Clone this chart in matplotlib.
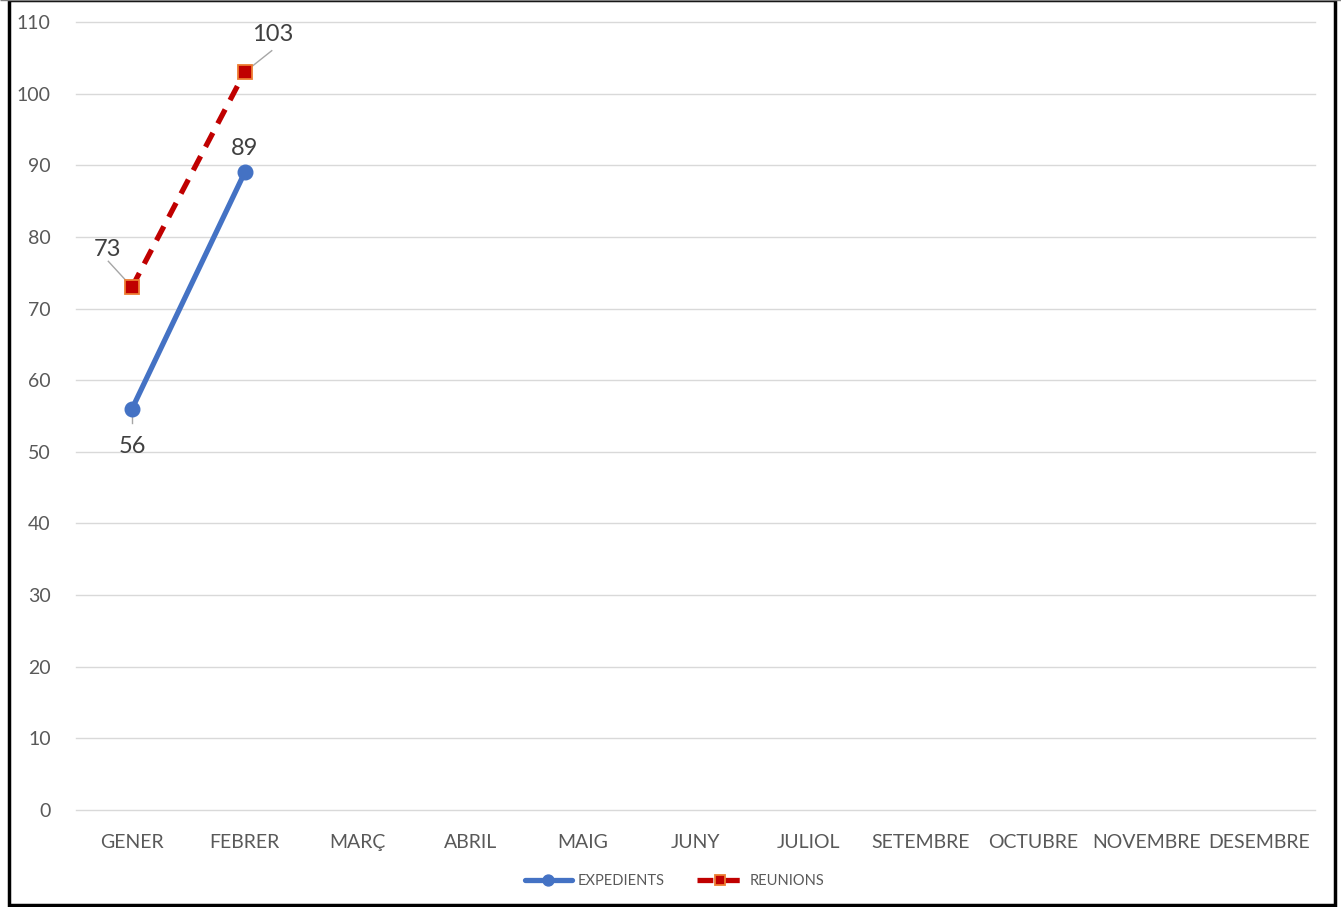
import matplotlib
matplotlib.use("Agg")
import matplotlib.pyplot as plt
from matplotlib.patches import Rectangle

months = ["GENER", "FEBRER", "MARÇ", "ABRIL", "MAIG", "JUNY", "JULIOL",
          "SETEMBRE", "OCTUBRE", "NOVEMBRE", "DESEMBRE"]
expedients = [56, 89]
reunions = [73, 103]
yticks = list(range(0, 111, 10))

plt.rcParams['font.family'] = ['Lato', 'DejaVu Sans']
text_c = '#595959'

fig = plt.figure(figsize=(13.41, 9.07), dpi=100)
ax = fig.add_axes([0.0564, 0.1069, 0.9245, 0.8688])

x = list(range(len(months)))
ax.plot(x[:len(expedients)], expedients, color='#4472C4', lw=3.8, marker='o',
        markersize=10.5, markerfacecolor='#4472C4', markeredgecolor='#4472C4',
        label='EXPEDIENTS', zorder=3, solid_capstyle='round')
ax.plot(x[:len(reunions)], reunions, color='#C00000', lw=3.8, ls=(0, (3, 2)),
        marker='s', markersize=10, markerfacecolor='#C00000', markeredgecolor='#ED7D31',
        markeredgewidth=1.3, label='REUNIONS', zorder=3)

ax.set_xlim(-0.5, len(months) - 0.5)
ax.set_ylim(0, 110)
ax.set_yticks(yticks)
ax.set_xticks(x)
ax.set_xticklabels(months)
ax.tick_params(axis='both', length=0, labelsize=14, colors=text_c)
ax.tick_params(axis='y', pad=18)
ax.tick_params(axis='x', pad=17)
for s in ax.spines.values():
    s.set_visible(False)
ax.grid(axis='y', color='#D9D9D9', lw=1)
for gl in ax.get_ygridlines():
    gl.set_clip_on(False)
ax.set_axisbelow(True)

lab_kw = dict(fontsize=17, color='#404040', ha='center', va='center')
lead_kw = dict(color='#A6A6A6', lw=1)
# EXPEDIENTS labels
ax.annotate(str(expedients[0]), xy=(x[0], expedients[0]), xytext=(0, -27),
            textcoords='offset points', **lab_kw)
ax.plot([x[0], x[0]], [expedients[0], expedients[0] - 2.0], **lead_kw, zorder=2)
ax.annotate(str(expedients[1]), xy=(x[1], expedients[1]), xytext=(0, 17),
            textcoords='offset points', **lab_kw)
# REUNIONS labels
ax.annotate(str(reunions[0]), xy=(x[0], reunions[0]), xytext=(-17.5, 27),
            textcoords='offset points', **lab_kw)
ax.plot([x[0] - 0.21, x[0]], [reunions[0] + 3.6, reunions[0]], **lead_kw, zorder=2)
ax.annotate(str(reunions[1]), xy=(x[1], reunions[1]), xytext=(20, 27),
            textcoords='offset points', **lab_kw)
ax.plot([x[1] + 0.24, x[1]], [reunions[1] + 3.0, reunions[1]], **lead_kw, zorder=2)

leg = fig.legend(loc='center', bbox_to_anchor=(0.503, 0.029), ncol=2, frameon=False,
                 fontsize=10.5, handlelength=3.2, columnspacing=2.2, handletextpad=0.4,
                 markerscale=0.75)
for t in leg.get_texts():
    t.set_color(text_c)

# outer border
fig.patches.append(Rectangle((8.5 / 1341, 2 / 907), (1335 - 8.5) / 1341, (907 - 2) / 907,
                             transform=fig.transFigure, fill=False, ec='black', lw=2.5))
fig.patches.append(Rectangle((0, 0.9995), 1, 0.0005, transform=fig.transFigure,
                             color='#7f7f7f'))

fig.savefig('out.png', dpi=100)
